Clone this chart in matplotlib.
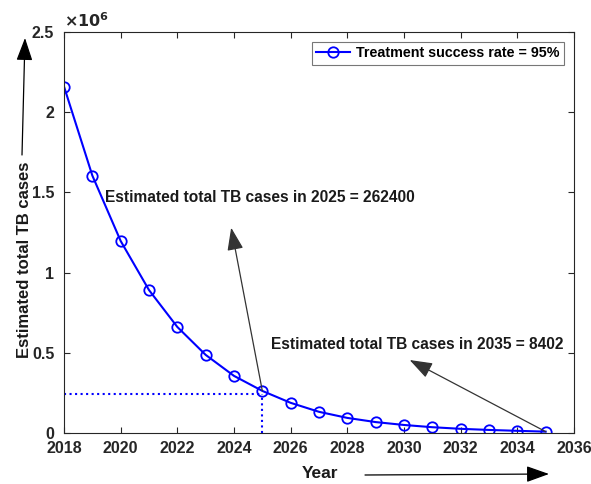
import numpy as np
import matplotlib.pyplot as plt
from matplotlib.ticker import FuncFormatter

# data
years = [2018, 2019, 2020, 2021, 2022, 2023, 2024, 2025, 2026, 2027,
         2028, 2029, 2030, 2031, 2032, 2033, 2034, 2035]
cases = [2160000, 1605000, 1197000, 891000, 661000, 487000, 356000, 262400,
         188000, 132000, 94000, 68000, 50000, 36000, 26000, 19000, 13500, 8402]
legend_label = "Treatment success rate = 95%"
note_2025 = "Estimated total TB cases in 2025 = 262400"
note_2035 = "Estimated total TB cases in 2035 = 8402"

plt.rcParams['font.family'] = ['Liberation Sans', 'DejaVu Sans']
plt.rcParams['font.weight'] = 'bold'

fig = plt.figure(figsize=(5.91, 4.84), dpi=100)
ax = fig.add_axes([0.1083, 0.1054, 0.8629, 0.8285])

ax.plot(years, cases, color='#0000ff', lw=1.5, marker='o', ms=7.5,
        mfc='none', mec='#0000ff', mew=1.3, label=legend_label)

# dotted guide lines at 2025
ax.plot([2018, 2025], [245000, 245000], color='#0000ff', ls=':', lw=1.5)
ax.plot([2025, 2025], [0, 245000], color='#0000ff', ls=':', lw=1.5)

ax.set_xlim(2018, 2036)
ax.set_ylim(0, 2.5e6)
ax.set_xticks(np.arange(2018, 2037, 2))
ax.set_yticks(np.arange(0, 2.51e6, 0.5e6))
ax.yaxis.set_major_formatter(FuncFormatter(lambda v, p: f"{v/1e6:g}"))
ax.tick_params(direction='in', top=True, right=True, labelsize=11.5,
               colors='#262626', length=4, width=0.8)
ax.tick_params(axis='x', pad=6)
ax.tick_params(axis='y', pad=7)
for lab in ax.get_xticklabels() + ax.get_yticklabels():
    lab.set_fontweight('bold')
for s in ax.spines.values():
    s.set_color('#262626')
    s.set_linewidth(0.8)

ax.text(0.0, 1.005, r"$\times10^6$", transform=ax.transAxes, fontsize=11.5,
        ha='left', va='bottom', color='#262626')

ax.set_xlabel("Year", fontsize=12.5, fontweight='bold', color='#1a1a1a')
ax.set_ylabel("Estimated total TB cases", fontsize=12, fontweight='bold',
              color='#1a1a1a')
ax.xaxis.set_label_coords(0.502, -0.082)
ax.yaxis.set_label_coords(-0.063, 0.431)

leg = ax.legend(loc='upper right', fontsize=10.3, frameon=True, fancybox=False,
                handlelength=2.4, handletextpad=0.4, borderpad=0.3,
                borderaxespad=0.7)
leg.get_frame().set_edgecolor('#555555')
leg.get_frame().set_linewidth(0.8)
for t in leg.get_texts():
    t.set_fontweight('bold')

arr = dict(arrowstyle='-|>,head_length=0.7,head_width=0.25', color='#333333',
           lw=0.9, mutation_scale=20, shrinkA=0, shrinkB=0)
ax.text(2019.45, 1.47e6, note_2025, fontsize=11.2, fontweight='bold',
        ha='left', va='center', color='#1a1a1a')
ax.annotate("", xy=(2023.9, 1.28e6), xytext=(2025, cases[7]), arrowprops=arr)
ax.text(2025.3, 0.55e6, note_2035, fontsize=11.2, fontweight='bold',
        ha='left', va='center', color='#1a1a1a')
ax.annotate("", xy=(2030.2, 0.455e6), xytext=(2035, cases[-1]), arrowprops=arr)

# arrows outside the axes
fig_arr = dict(arrowstyle='-|>,head_length=0.7,head_width=0.25', color='black',
               lw=0.9, mutation_scale=20, shrinkA=0, shrinkB=0)
ax.annotate("", xy=(25 / 591, 1 - 38 / 484), xytext=(22 / 591, 1 - 155 / 484),
            xycoords='figure fraction', textcoords='figure fraction',
            arrowprops=fig_arr, annotation_clip=False)
ax.annotate("", xy=(549 / 591, 1 - 474 / 484), xytext=(365 / 591, 1 - 475 / 484),
            xycoords='figure fraction', textcoords='figure fraction',
            arrowprops=fig_arr, annotation_clip=False)

fig.savefig("out.png", dpi=100)
